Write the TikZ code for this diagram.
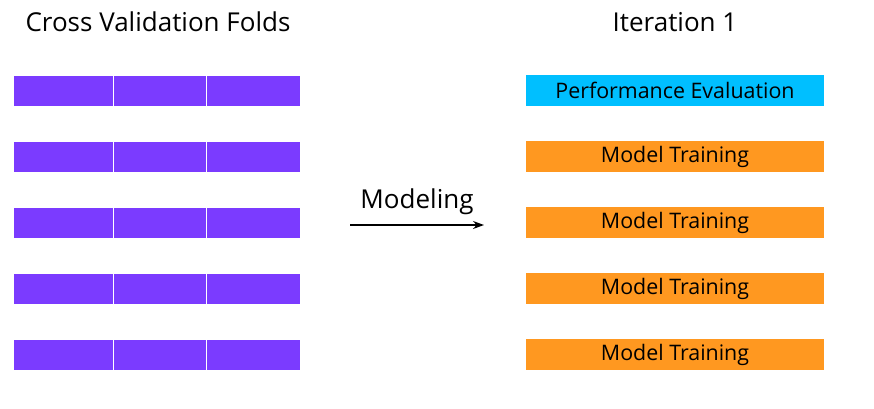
\documentclass[tikz,border=0pt]{standalone}
\usepackage{fontspec}
\setmainfont{Open Sans}
\usetikzlibrary{arrows.meta}
\definecolor{foldpurple}{HTML}{7B3BFF}
\definecolor{evalblue}{HTML}{00BFFF}
\definecolor{trainorange}{HTML}{FF9820}
\tikzset{
  fold/.style={fill=foldpurple, draw=white, line width=0.8pt, minimum height=31pt, inner sep=0pt},
  stage/.style={minimum width=298pt, minimum height=31pt, inner sep=0pt, font=\fontsize{21.4pt}{24pt}\selectfont},
  title/.style={font=\fontsize{26pt}{30pt}\selectfont}
}
\begin{document}
\begin{tikzpicture}[x=1pt,y=-1pt]
  \useasboundingbox (0,0) rectangle (874,408);
  \node[title] (cvtitle) at (158,22) {Cross Validation Folds};
  \node[title] (ittitle) at (675,22) {Iteration 1};
  % folds
  \foreach \r/\y in {1/90.5,2/156.5,3/222.5,4/288.5,5/354.5} {
    \node[fold, minimum width=100pt] (f\r a) at (63.5,\y) {};
    \node[fold, minimum width=93pt] (f\r b) at (160,\y) {};
    \node[fold, minimum width=94pt] (f\r c) at (253.5,\y) {};
  }
  % stages
  \node[stage, fill=evalblue] (s1) at (675,90.5) {Performance Evaluation};
  \foreach \r/\y in {2/156.5,3/222.5,4/288.5,5/354.5}
    \node[stage, fill=trainorange] (s\r) at (675,\y) {Model Training};
  % arrow
  \coordinate (a) at (350,225);
  \coordinate (b) at (484,225);
  \draw[-{Stealth[length=11pt,width=8pt]}, line width=1.3pt] (a) -- (b)
    node[midway, above=6pt, title] (mlabel) {Modeling};
\end{tikzpicture}
\end{document}
